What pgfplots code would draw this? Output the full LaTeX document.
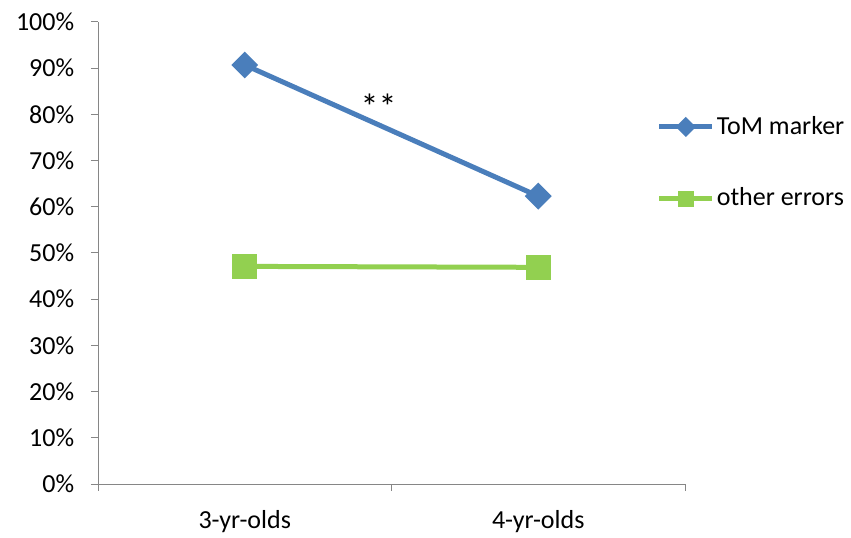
\documentclass[border=0pt]{standalone}
\usepackage{pgfplots}
\pgfplotsset{compat=1.18}
\usepackage{fontspec}
\setmainfont{Carlito}
\definecolor{tomblue}{HTML}{4A7EBB}
\definecolor{othgreen}{HTML}{92D050}
\definecolor{axgray}{HTML}{868686}
\begin{document}
\fontsize{26bp}{31bp}\selectfont
\begin{tikzpicture}
\path[use as bounding box] (0,0) rectangle (851bp,538bp);
\begin{axis}[
  at={(98bp,54bp)}, anchor=south west,
  scale only axis, width=587bp, height=462bp,
  xmin=0, xmax=2, ymin=0, ymax=100,
  axis lines=left,
  axis line style={axgray, line width=1bp, -},
  tick align=outside,
  major tick length=7bp,
  tick style={axgray, line width=1bp},
  xtick={0,1,2}, xticklabels={},
  extra x ticks={0.5,1.5},
  extra x tick labels={3-yr-olds,4-yr-olds},
  extra x tick style={major tick length=0pt, xticklabel style={yshift=-18bp}},
  ytick={0,10,...,100},
  yticklabels={0\%,10\%,20\%,30\%,40\%,50\%,60\%,70\%,80\%,90\%,100\%},
  yticklabel style={xshift=-8bp},
  ticklabel style={text=black},
  legend style={draw=none, fill=none, at={(0.952,0.695)}, anchor=west,
    row sep=46bp, inner sep=0pt, outer sep=0pt,
    nodes={inner sep=2bp}},
  legend cell align=left,
  legend image code/.code={\draw[mark repeat=2, mark phase=2, #1] plot coordinates {(0bp,0bp) (26.5bp,0bp) (53bp,0bp)};},
  clip=false,
]
\addplot[tomblue, line width=5bp, mark=square*, mark size=7bp,
  mark options={rotate=45, solid},
  legend image post style={mark size=4.6bp}]
  coordinates {(0.5,90.7) (1.5,62.3)};
\addlegendentry{ToM marker}
\addplot[othgreen, line width=5bp, mark=square*, mark size=10bp,
  mark options={solid},
  legend image post style={mark size=5.8bp}]
  coordinates {(0.5,47.1) (1.5,46.9)};
\addlegendentry{other errors}
\node[text=black, font=\fontsize{36bp}{40bp}\selectfont] at (axis cs:0.956,81.6) {**};
\end{axis}
\end{tikzpicture}
\end{document}
